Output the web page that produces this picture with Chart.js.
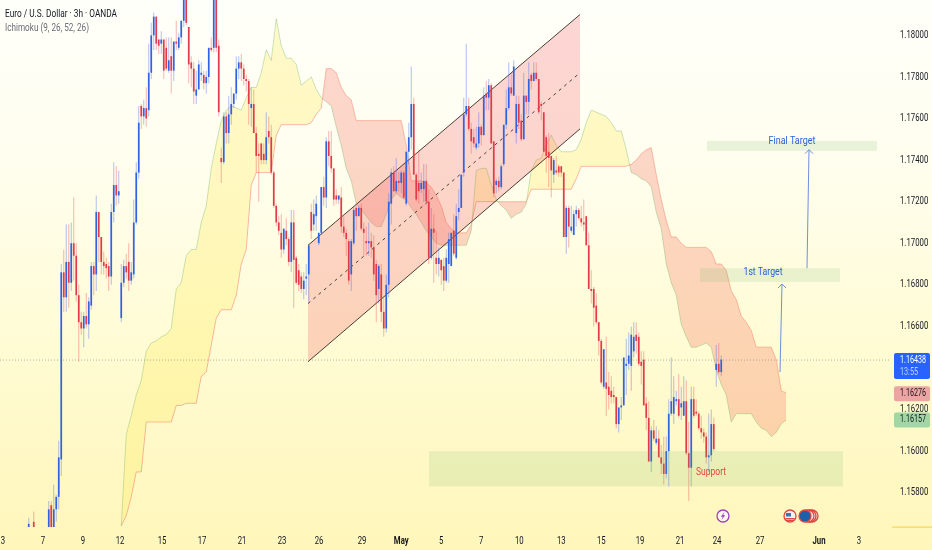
<!DOCTYPE html>
<html><head><meta charset="utf-8">
<style>html,body{margin:0;padding:0;background:#fff}canvas{display:block}</style>
<script src="https://cdn.jsdelivr.net/npm/chart.js@4"></script>
</head><body><canvas id="c" width="932" height="550" style="width:932px;height:550px"></canvas>
<script>
// Candle values in pips (price x 10000). First candle sits in slot firstSlot; one slot = one 3h bar.
const firstSlot = 11;
const open = [11562,null,11566,null,null,null,null,null,
11560,11574,11560,11572,11578,11596,11686,11674,11691,11681,11700,11694,11675,11662,11659,11665,11661,11670,11689,11685,11715,11703,11691,11690,11689,11684,11715,11728,11723,
11664,11681,11689,11691,11682,11685,11710,11734,11766,11761,11765,11764,11782,11800,11809,11798,11796,11798,11794,11783,11790,11783,11797,11794,11799,11807,11819,11804,11787,11784,11771,11774,11781,11781,11777,11780,11794,11794,11819,11795,
11741,11739,11761,11753,11762,11767,11772,11784,11787,11784,11779,11778,11765,11767,11753,11743,11748,11743,11740,11754,11751,11734,11718,11710,11705,11697,11706,11702,11691,11710,11693,11687,11684,11678,11683,
11685,11715,11709,11713,11700,11705,11727,11722,11749,11742,11736,11723,11721,11722,11708,11705,11701,11685,11700,11717,11713,11717,11707,11701,11700,11701,11698,11690,11678,11685,11667,11659,11680,11719,11734,11725,11730,11729,11734,11719,11744,11751,11767,11733,11729,11726,11726,11730,11720,11693,11707,11693,11690,11692,11689,11682,11690,11689,11706,11693,11715,11717,11734,11762,11766,11755,11751,11746,11748,11756,11752,11772,11770,11776,11749,11728,11730,11727,11738,11757,11765,11775,11771,11753,11767,11759,11750,11771,11768,11781,11778,11782,11779,11767,11763,11751,11744,11742,11733,11735,11737,11737,11734,11703,11717,11706,11704,11714,11716,11712,11710,11713,11699,11678,11678,11670,11662,11653,11631,11633,
11631,11629,11627,11626,11613,11621,11622,11641,11642,11641,11648,11656,11655,11643,11644,11623,11616,11595,11610,11604,11606,11597,11594,11589,11600,11618,11618,11624,11625,11621,11617,11624,11599,11592,11625,11619,11618,11611,11609,11607,11597,11598,11613,11639,11642,11638];
const close = [11565,null,11562,null,null,null,null,null,
11572,11560,11572,11578,11597,11686,11674,11691,11681,11700,11694,11675,11662,11659,11665,11661,11672,11689,11685,11715,11703,11691,11689,11688,11684,11715,11728,11723,11725,
11681,11689,11686,11682,11686,11710,11734,11758,11761,11765,11760,11782,11800,11809,11796,11795,11798,11783,11784,11788,11783,11797,11796,11799,11807,11819,11806,11786,11784,11773,11774,11786,11782,11777,11780,11794,11793,11819,11794,11763,
11739,11761,11753,11762,11767,11772,11784,11787,11784,11779,11778,11767,11767,11753,11742,11742,11740,11740,11751,11751,11734,11718,11710,11706,11697,11707,11702,11691,11710,11692,11681,11680,11678,11682,11684,
11699,11706,11714,11719,11705,11727,11722,11749,11742,11736,11721,11721,11723,11708,11705,11702,11682,11701,11716,11713,11717,11707,11705,11700,11701,11698,11685,11675,11689,11667,11659,11680,11720,11734,11725,11730,11729,11734,11722,11744,11751,11767,11733,11721,11725,11729,11730,11720,11693,11707,11705,11690,11693,11687,11682,11693,11702,11705,11695,11713,11717,11733,11762,11766,11755,11749,11748,11748,11756,11752,11771,11770,11776,11748,11724,11730,11727,11737,11757,11765,11775,11772,11785,11767,11758,11750,11771,11768,11779,11778,11782,11779,11763,11766,11744,11742,11741,11735,11740,11734,11734,11734,11703,11717,11708,11708,11714,11716,11712,11710,11709,11699,11678,11677,11669,11662,11653,11633,11649,11630,
11627,11626,11626,11613,11621,11622,11645,11642,11646,11656,11655,11653,11642,11641,11622,11616,11595,11610,11606,11606,11597,11594,11589,11600,11618,11624,11626,11625,11617,11623,11624,11599,11592,11625,11617,11618,11611,11609,11607,11597,11598,11613,11601,11642,11638,11644];
const high = [11568,null,11571,null,null,null,null,null,
11576,11576,11584,11579,11605,11690,11697,11709,11709,11710,11722,11700,11680,11667,11667,11676,11674,11691,11691,11723,11715,11703,11696,11693,11691,11719,11739,11737,11735,
11690,11692,11695,11700,11691,11721,11739,11766,11767,11769,11775,11796,11806,11811,11809,11798,11802,11798,11799,11799,11799,11797,11807,11801,11807,11822,11822,11804,11790,11787,11783,11788,11787,11783,11783,11794,11799,11823,11823,11798,
11746,11763,11763,11771,11775,11772,11790,11790,11791,11786,11781,11779,11775,11774,11756,11748,11748,11748,11763,11761,11757,11735,11719,11713,11714,11707,11712,11703,11716,11716,11694,11690,11686,11686,11690,
11699,11719,11721,11723,11705,11727,11732,11751,11754,11754,11736,11726,11723,11727,11713,11707,11702,11702,11718,11719,11718,11719,11710,11708,11710,11705,11704,11692,11690,11690,11674,11685,11724,11736,11737,11741,11734,11735,11735,11744,11758,11785,11770,11734,11745,11734,11738,11738,11726,11717,11714,11706,11698,11692,11693,11697,11705,11705,11714,11719,11726,11733,11770,11796,11770,11758,11755,11756,11763,11757,11775,11778,11779,11777,11749,11731,11732,11738,11757,11774,11787,11782,11788,11771,11771,11762,11782,11771,11787,11782,11787,11787,11779,11768,11763,11752,11753,11742,11741,11742,11738,11737,11734,11718,11718,11718,11716,11718,11717,11718,11721,11713,11705,11687,11679,11676,11662,11654,11649,11655,
11638,11636,11631,11626,11621,11626,11645,11654,11657,11660,11662,11662,11657,11648,11648,11626,11624,11612,11615,11612,11610,11603,11607,11607,11625,11645,11636,11629,11637,11631,11636,11634,11614,11631,11631,11625,11619,11617,11611,11609,11618,11620,11616,11651,11652,11646];
const low = [11560,null,11560,null,null,null,null,null,
11558,11558,11558,11566,11572,11588,11667,11667,11669,11677,11682,11672,11643,11656,11650,11659,11654,11668,11675,11677,11691,11685,11685,11683,11677,11680,11710,11718,11719,
11662,11679,11683,11677,11680,11683,11709,11731,11755,11757,11756,11761,11779,11793,11793,11791,11791,11779,11783,11782,11772,11778,11793,11793,11796,11804,11805,11777,11775,11767,11767,11774,11778,11774,11772,11777,11792,11792,11792,11761,
11729,11738,11748,11748,11757,11765,11769,11779,11778,11776,11773,11757,11756,11753,11734,11720,11738,11738,11738,11748,11733,11717,11708,11704,11693,11695,11699,11689,11686,11669,11680,11677,11676,11673,11675,
11672,11702,11706,11706,11699,11704,11718,11717,11737,11734,11718,11719,11719,11705,11703,11694,11680,11677,11699,11706,11713,11706,11694,11694,11694,11693,11682,11662,11671,11662,11655,11657,11674,11709,11725,11724,11725,11724,11721,11718,11738,11745,11733,11720,11719,11724,11720,11720,11690,11692,11681,11685,11684,11680,11677,11681,11681,11689,11694,11692,11711,11717,11732,11761,11754,11743,11746,11745,11746,11747,11752,11764,11764,11748,11722,11724,11725,11726,11737,11755,11764,11771,11771,11748,11755,11749,11750,11762,11762,11774,11778,11778,11762,11759,11744,11734,11727,11722,11729,11733,11732,11732,11703,11695,11698,11705,11704,11708,11711,11708,11706,11699,11678,11671,11660,11661,11646,11632,11630,11617,
11620,11623,11623,11611,11609,11615,11622,11627,11639,11629,11645,11647,11641,11632,11622,11610,11595,11590,11605,11603,11597,11589,11584,11587,11583,11617,11613,11622,11616,11615,11617,11598,11576,11583,11616,11617,11610,11606,11604,11594,11590,11595,11600,11631,11637,11636];

// Ichimoku cloud edges, read every second slot starting at cloudFirstSlot (pips)
const cloudFirstSlot = 48, cloudStep = 2;
const spanA = [11564,11608,11617,11627,11634,11648,11652,11653,11655,11656,
11659,11678,11681,11694,11697,11697,11710,11718,11736,11748,
11759,11764,11766,11765,11764,11770,11775,11775,11782,11793,
11788,11808,11795,11789,11789,11786,11776,11778,11780,11774,
11770,11768,11766,11756,11747,11736,11730,11719,11716,11713,
11710,11708,11708,11714,11721,11724,11722,11721,11717,11714,
11710,11706,11703,11700,11699,11699,11699,11699,11699,11699,
11706,11735,11736,11736,11728,11721,11718,11716,11712,11714,
11715,11719,11735,11740,11741,11747,11752,11747,11744,11744,
11744,11745,11750,11758,11764,11763,11762,11761,11758,11754,
11754,11745,11734,11733,11731,11730,11727,11715,11707,11690,
11681,11675,11661,11655,11650,11650,11651,11652,11650,11639,
11632,11627,11614,11618,11618,11618,11618,11614,11611,11610,
11607,11609,11613,11615];
const spanB = [11564,11569,11578,11590,11590,11614,11614,11614,11614,11614,
11614,11622,11622,11623,11623,11623,11636,11638,11651,11664,
11668,11668,11668,11675,11690,11697,11728,11734,11734,11734,
11734,11752,11757,11757,11757,11757,11757,11757,11758,11762,
11765,11784,11784,11782,11775,11771,11769,11759,11759,11759,
11759,11759,11759,11759,11759,11759,11759,11747,11730,11730,
11730,11729,11727,11723,11718,11710,11707,11705,11705,11705,
11709,11720,11720,11720,11720,11720,11720,11720,11720,11720,
11720,11720,11726,11726,11726,11726,11726,11726,11726,11726,
11726,11731,11737,11737,11737,11737,11737,11737,11737,11737,
11737,11737,11738,11740,11743,11745,11746,11733,11721,11711,
11703,11703,11700,11698,11698,11698,11698,11698,11696,11690,
11690,11687,11677,11673,11665,11662,11658,11650,11650,11650,
11650,11644,11629,11628];

// Axis
const slotCount = 356;
const tickSlots  = [0.7,16.7,32.7,47.5,64.3,80.3,96.3,112.3,127.1,144.3,160,176,192,207.2,224,240,255.5,271.5,286.3,303.5,327.1,343.1];
const tickLabels = ['3','7','9','12','15','17','21','23','26','29','May','5','7','10','13','15','19','21','24','27','Jun','3'];
const priceTicks = [1.158,1.16,1.162,1.166,1.168,1.17,1.172,1.174,1.176,1.178,1.18];
const priceMin = 1.15635, priceMax = 1.1817;

// Drawn objects (slots and pips)
const channelSlots = [122.7,231.5];
const channelTop = [11699,11810];
const channelMid = [11671,11782];
const channelBot = [11643,11755];
const zoneSlots  = [[282.3,350.3],[279.5,335.5],[171.1,336.7]];
const zonePrices = [[11749.2,11744.4],[11688,11681.4],[11600,11583]];
const arrowSlots = [[311.5,312.3],[322.3,323.1]];
const arrowPrices= [[11638,11680.4],[11688,11745]];
const noteTexts  = ['Final Target','1st Target','Support'];
const noteSlots  = [316.3,304.7,283.9];
const notePrices = [11749,11686,11590];
const noteWidths = [47,39,30];
const lastPrice = 1.16438, otherPrices = [1.16276,1.16157];
const eventSlots = [288.7,315.5,321.5];

const FONT = 'Roboto, "Noto Sans", sans-serif';
const SQUEEZE = 0.74;
const candles = open.map((o,i)=>o===null?null:{x:firstSlot+i,o:o/1e4,c:close[i]/1e4,h:high[i]/1e4,l:low[i]/1e4}).filter(Boolean);
const cloudA = spanA.map((v,i)=>({x:cloudFirstSlot+cloudStep*i,y:v/1e4}));
const cloudB = spanB.map((v,i)=>({x:cloudFirstSlot+cloudStep*i,y:v/1e4}));
const chanLine = a => a.map((v,i)=>({x:channelSlots[i],y:v/1e4}));

// The reference's axis text is horizontally condensed: draw the scale's own labels squeezed.
function squeezeLabels(scale){
  if(scale.__squeezed) return;
  scale.__squeezed = true;
  scale._computeLabelArea = function(){ return undefined; };
  const orig = scale.drawLabels;
  scale.drawLabels = function(area){
    const items = this.getLabelItems(area);
    if(!this.__shifted){
      items.forEach(it=>{ it.options.translation = [it.options.translation[0]/SQUEEZE, it.options.translation[1]]; });
      this.__shifted = true;
    }
    const c = this.ctx;
    c.save(); c.scale(SQUEEZE,1);
    orig.call(this, area);
    c.restore();
  };
}

const overlay = {
  id:'overlay',
  beforeDraw(ch){
    const {ctx,width,height}=ch;
    const g=ctx.createLinearGradient(0,0,0,height);
    g.addColorStop(0,'#fffffa');g.addColorStop(.3,'#fffeee');g.addColorStop(.65,'#fffbd2');g.addColorStop(1,'#fff6ba');
    ctx.save();ctx.fillStyle=g;ctx.fillRect(0,0,width,height);ctx.restore();
    squeezeLabels(ch.scales.x);squeezeLabels(ch.scales.y);
  },
  afterDatasetsDraw(ch){
    const {ctx,scales:{x,y},chartArea:a}=ch;
    const Y=p=>y.getPixelForValue(p/1e4);
    ctx.save();
    // last price line
    ctx.setLineDash([1,2]);ctx.strokeStyle='rgba(120,120,120,.55)';ctx.lineWidth=1;
    ctx.beginPath();ctx.moveTo(a.left,y.getPixelForValue(lastPrice));ctx.lineTo(a.right,y.getPixelForValue(lastPrice));ctx.stroke();
    ctx.setLineDash([]);
    // zones
    ctx.fillStyle='rgba(110,180,100,.15)';
    zoneSlots.forEach((s,i)=>{
      const x0=x.getPixelForValue(s[0]),x1=x.getPixelForValue(s[1]),y0=Y(zonePrices[i][0]),y1=Y(zonePrices[i][1]);
      ctx.fillRect(x0,y0,x1-x0,y1-y0);
    });
    // arrows
    ctx.strokeStyle='#6f8fe0';ctx.lineWidth=1;
    arrowSlots.forEach((s,i)=>{
      const x0=x.getPixelForValue(s[0]),x1=x.getPixelForValue(s[1]),y0=Y(arrowPrices[i][0]),y1=Y(arrowPrices[i][1]);
      ctx.beginPath();ctx.moveTo(x0,y0);ctx.lineTo(x1,y1);ctx.moveTo(x1-4,y1+4);ctx.lineTo(x1,y1);ctx.lineTo(x1+4,y1+4);ctx.stroke();
    });
    // notes
    ctx.font='11.5px '+FONT;ctx.textAlign='center';ctx.textBaseline='middle';
    noteTexts.forEach((t,i)=>{
      ctx.fillStyle=i===2?'#e0453c':'#2962d8';
      ctx.fillText(t,x.getPixelForValue(noteSlots[i]),Y(notePrices[i]),noteWidths[i]);
    });
    // event icons
    const ey=a.bottom-11;
    const disc=(cx,r,fill,stroke)=>{ctx.beginPath();ctx.arc(cx,ey,r,0,Math.PI*2);ctx.fillStyle=fill;ctx.fill();ctx.lineWidth=1.3;ctx.strokeStyle=stroke;ctx.stroke();};
    const e0=x.getPixelForValue(eventSlots[0]),e1=x.getPixelForValue(eventSlots[1]),e2=x.getPixelForValue(eventSlots[2]);
    disc(e0,6,'#fdf7e8','#9c3fc4');
    ctx.fillStyle='#9c3fc4';ctx.beginPath();ctx.moveTo(e0+1.5,ey-4);ctx.lineTo(e0-2.2,ey+.8);ctx.lineTo(e0-.2,ey+.8);ctx.lineTo(e0-1.5,ey+4);ctx.lineTo(e0+2.2,ey-.8);ctx.lineTo(e0+.2,ey-.8);ctx.closePath();ctx.fill();
    disc(e1,6,'#f5f0ee','#e2453f');
    ctx.fillStyle='#e2453f';ctx.fillRect(e1-4.5,ey+2,9,1.4);ctx.fillRect(e1-3.5,ey+4,7,1);
    ctx.fillStyle='#3f6fb8';ctx.fillRect(e1-4,ey-3,5,3.5);
    [e2+7,e2+5,e2+3].forEach(cx=>disc(cx,6,'#f7e6e0','#e2453f'));
    disc(e2,6,'#1d5fa8','#e2453f');
    ctx.restore();
  },
  afterDraw(ch){
    const {ctx,scales:{y},chartArea:a}=ch;
    ctx.save();
    ctx.textAlign='left';ctx.textBaseline='middle';
    // legend text
    ctx.font='10.5px '+FONT;ctx.fillStyle='#131722';
    ctx.fillText('Euro / U.S. Dollar · 3h · OANDA',5,14,112);
    ctx.fillStyle='#6a6d78';
    ctx.fillText('Ichimoku (9, 26, 52, 26)',5,28,84);
    // yellow bottom stub
    ctx.fillStyle='#f5d94e';ctx.fillRect(a.right+2,a.bottom-.5,40,1.2);
    // price badges
    const X=894,W=36;
    const badge=(yc,h,c)=>{ctx.fillStyle=c;ctx.beginPath();ctx.roundRect(X,yc,W,h,2);ctx.fill();};
    const ly=y.getPixelForValue(lastPrice);
    badge(ly-7,26,'#2962ff');
    ctx.font='10px '+FONT;
    ctx.fillStyle='#fff';ctx.fillText(lastPrice.toFixed(5),900,ly,26);
    ctx.fillStyle='#bcd0ff';ctx.fillText('13:55',900,ly+12.5,18);
    const bc=['#eba5a2','#a3d6a5'];
    otherPrices.forEach((p,i)=>{
      const py=y.getPixelForValue(p)+(i?1.5:0);
      badge(py-7.5,15,bc[i]);
      ctx.fillStyle='#131722';ctx.fillText(p.toFixed(5),900,py,26);
    });
    ctx.restore();
  }
};

new Chart(document.getElementById('c'),{
  data:{datasets:[
    {type:'line',order:9,data:cloudA,borderColor:'rgba(90,170,80,.32)',borderWidth:1,pointRadius:0,tension:0,
     fill:{target:1,above:'rgba(255,235,90,.3)',below:'rgba(243,95,80,.25)'}},
    {type:'line',order:8,data:cloudB,borderColor:'rgba(240,90,80,.38)',borderWidth:1,pointRadius:0,tension:0,fill:false},
    {type:'line',order:7,data:chanLine(channelTop),borderColor:'#4a3f38',borderWidth:1,pointRadius:0,
     fill:{target:3,above:'rgba(242,70,80,.22)',below:'rgba(242,70,80,.22)'}},
    {type:'line',order:6,data:chanLine(channelBot),borderColor:'#4a3f38',borderWidth:1,pointRadius:0,fill:false},
    {type:'line',order:5,data:chanLine(channelMid),borderColor:'#4a3f38',borderWidth:1,borderDash:[3,4],pointRadius:0,fill:false},
    {type:'bar',order:3,grouped:false,barThickness:1,inflateAmount:0,
     data:candles.map(k=>({x:k.x,y:[k.l,k.h]})),
     backgroundColor:candles.map(k=>k.c>=k.o?'rgba(70,110,235,.42)':'rgba(235,80,90,.42)')},
    {type:'bar',order:2,grouped:false,barThickness:1.7,inflateAmount:0,minBarLength:1,
     data:candles.map(k=>({x:k.x,y:[k.o,k.c]})),
     backgroundColor:candles.map(k=>k.c>=k.o?'#2f62e4':'#e23a48')}
  ]},
  options:{
    responsive:false,animation:false,
    layout:{padding:0},
    plugins:{legend:{display:false},tooltip:{enabled:false}},
    scales:{
      x:{type:'linear',min:-0.5,max:slotCount-0.5,offset:false,
        grid:{display:false,drawTicks:false},border:{display:false},
        afterBuildTicks(s){s.ticks=tickSlots.map(v=>({value:v}));},
        afterFit(s){s.height=23;s.paddingLeft=0;s.paddingRight=0;},
        ticks:{autoSkip:false,maxRotation:0,padding:8,color:'#131722',
          font(c){return {family:FONT,size:10.5,weight:(c.index===10||c.index===20)?'bold':'normal'};},
          callback(v){return tickLabels[tickSlots.indexOf(v)];}}
      },
      y:{type:'linear',position:'right',min:priceMin,max:priceMax,
        grid:{display:false,drawTicks:false},border:{display:false},
        afterBuildTicks(s){s.ticks=priceTicks.map(v=>({value:v}));},
        afterFit(s){s.width=42;s.paddingTop=0;s.paddingBottom=0;},
        ticks:{autoSkip:false,padding:10,color:'#131722',font:{family:FONT,size:10.5},
          callback(v){return v.toFixed(5);}}
      }
    }
  },
  plugins:[overlay]
});
</script></body></html>
